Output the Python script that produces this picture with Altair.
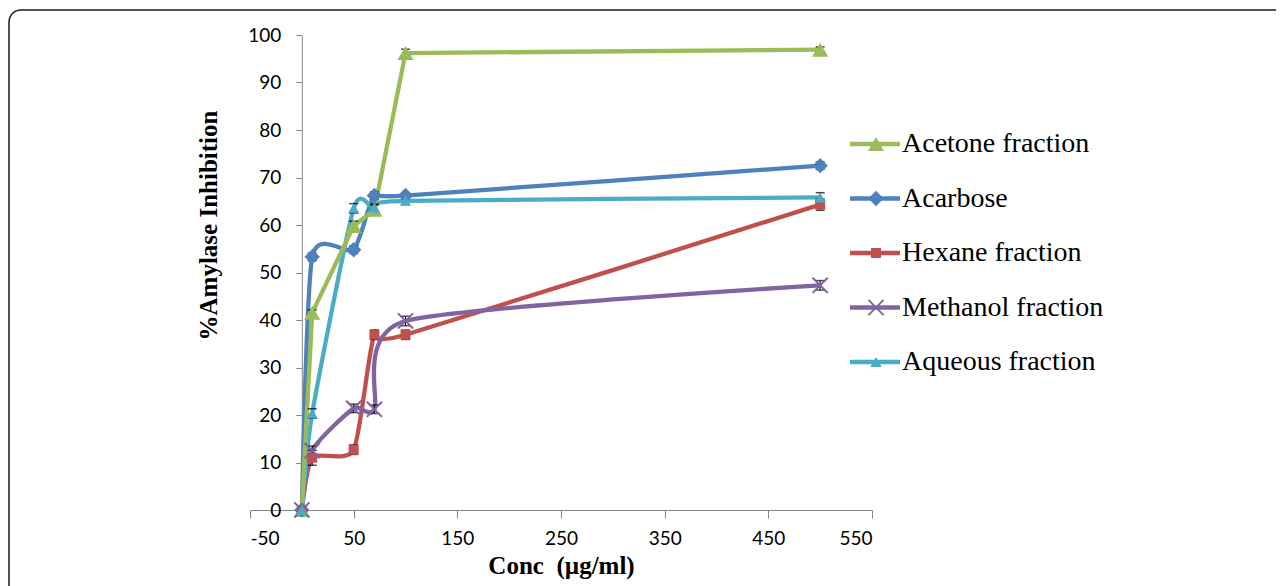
import altair as alt
import pandas as pd

# ---- data ----
conc = [0, 10, 50, 70, 100, 500]
series_names = ["Acetone fraction", "Acarbose", "Hexane fraction",
                "Methanol fraction", "Aqueous fraction"]
acetone = [0, 41.5, 59.8, 63.2, 96.2, 96.9]
acarbose = [0, 53.3, 54.8, 66.2, 66.2, 72.5]
hexane = [0, 11.0, 12.7, 36.9, 36.9, 64.3]
methanol = [0, 12.5, 21.4, 21.2, 39.8, 47.3]
aqueous = [0, 20.3, 63.5, 63.6, 65.1, 65.8]

acetone_err = [0, 0.6, 1.0, 1.0, 0.8, 0.6]
acarbose_err = [0, 0.8, 0.8, 0.8, 0.6, 0.8]
hexane_err = [0, 1.6, 1.0, 1.0, 1.0, 1.2]
methanol_err = [0, 1.0, 0.9, 0.9, 1.0, 1.0]
aqueous_err = [0, 1.0, 1.0, 0.8, 0.8, 1.0]

colors = ["#9BBB59", "#4F81BD", "#C0504D", "#8064A2", "#4BACC6"]
X_PATH = "M-1,-1L1,1M1,-1L-1,1"
shapes = ["triangle-up", "diamond", "square", X_PATH, "triangle-up"]
sizes = [260, 240, 100, 230, 130]
x_ticks = [-50, 50, 150, 250, 350, 450, 550]
y_ticks = list(range(0, 101, 10))

values = [acetone, acarbose, hexane, methanol, aqueous]
errors = [acetone_err, acarbose_err, hexane_err, methanol_err, aqueous_err]

rows = []
for name, vals, errs in zip(series_names, values, errors):
    for c, v, e in zip(conc, vals, errs):
        rows.append({"series": name, "conc": c, "value": v,
                     "lo": v - e, "hi": v + e, "err": e})
df = pd.DataFrame(rows)
legend_df = pd.DataFrame({"series": series_names})

AXIS_GRAY = "#868686"

x_enc = alt.X("conc:Q",
              scale=alt.Scale(domain=[-50, 550], nice=False, zero=False),
              axis=alt.Axis(values=x_ticks, grid=False, title="Conc \u00a0(\u00b5g/ml)",
                            labelExpr="datum.value + ''",
                            domainColor=AXIS_GRAY, tickColor=AXIS_GRAY, tickSize=8,
                            labelFont="Lato", labelFontSize=19, labelColor="black",
                            labelPadding=11, titleFont="Liberation Serif",
                            titleFontSize=25, titleFontWeight="bold", titleColor="black",
                            titlePadding=5))
y_enc = alt.Y("value:Q",
              scale=alt.Scale(domain=[0, 100], nice=False, zero=True),
              axis=alt.Axis(values=y_ticks, grid=False, title="%Amylase Inhibition",
                            offset=-51.8, domainColor=AXIS_GRAY, tickColor=AXIS_GRAY,
                            tickSize=6, labelFont="Lato", labelFontSize=19,
                            labelColor="black", labelPadding=15,
                            titleFont="Liberation Serif", titleFontSize=25,
                            titleFontWeight="bold", titleColor="black", titlePadding=26,
                            titleY=190))
color_enc = alt.Color("series:N", scale=alt.Scale(domain=series_names, range=colors),
                      legend=None)

base = alt.Chart(df)

smooth_lines = base.transform_filter(
    alt.datum.series != "Acetone fraction"
).mark_line(interpolate="cardinal", tension=0.35, strokeWidth=4.3).encode(
    x=x_enc, y=y_enc, color=color_enc, detail="series:N", order="conc:Q")

straight_line = base.transform_filter(
    alt.datum.series == "Acetone fraction"
).mark_line(strokeWidth=4.3).encode(
    x=x_enc, y=y_enc, color=color_enc, order="conc:Q")

err_base = base.transform_filter(alt.datum.err > 0)
err_rule = err_base.mark_rule(color="black", strokeWidth=1).encode(
    x=x_enc, y=alt.Y("lo:Q"), y2="hi:Q")
cap_lo = err_base.mark_tick(color="black", orient="horizontal", thickness=1.5, size=9).encode(
    x=x_enc, y=alt.Y("lo:Q"))
cap_hi = err_base.mark_tick(color="black", orient="horizontal", thickness=1.5, size=9).encode(
    x=x_enc, y=alt.Y("hi:Q"))


def series_points(chart, name, shape, size, color, x, y):
    filt = chart.transform_filter(alt.datum.series == name)
    if shape == X_PATH:
        m = filt.mark_point(filled=False, opacity=1, strokeWidth=2, shape=shape,
                            size=size, color=color)
    else:
        m = filt.mark_point(filled=True, opacity=1, shape=shape, size=size, color=color)
    return m.encode(x=x, y=y)


point_layers = [series_points(base, n, s, z, c, x_enc, y_enc)
                for n, s, z, c in zip(series_names, shapes, sizes, colors)]

data_layer = alt.layer(smooth_lines, straight_line, err_rule, cap_lo, cap_hi,
                       *point_layers)

# ---- legend ----
leg_y = alt.Y("series:N", sort=series_names,
              scale=alt.Scale(type="point", domain=series_names, range=[109, 327],
                              padding=0),
              axis=None)
leg_base = alt.Chart(legend_df)
leg_rule = leg_base.mark_rule(strokeWidth=4.3).encode(
    x=alt.value(600), x2=alt.value(650), y=leg_y, color=color_enc)
leg_pts = [series_points(leg_base, n, s, z, c, alt.value(626), leg_y)
           for n, s, z, c in zip(series_names, shapes, sizes, colors)]
leg_text = leg_base.mark_text(align="left", baseline="middle", font="Liberation Serif",
                              fontSize=28, color="black").encode(
    x=alt.value(652), y=leg_y, text="series:N")
legend_layer = alt.layer(leg_rule, *leg_pts, leg_text)

# ---- outer frame ----
frame = alt.Chart(pd.DataFrame({"k": [0]})).mark_rect(
    fillOpacity=0, stroke="#1a1a1a", strokeWidth=1.5, cornerRadius=12).encode(
    x=alt.value(-241), x2=alt.value(1100), y=alt.value(-25), y2=alt.value(700))

chart = alt.layer(frame, data_layer, legend_layer).resolve_scale(
    y="independent"
).properties(
    width=622, height=475,
    autosize=alt.AutoSizeParams(type="none"),
    padding={"left": 242, "top": 27, "right": 404, "bottom": 76},
).configure_view(stroke=None)

chart.save("out.html", embed_options={"renderer": "svg", "actions": False})
